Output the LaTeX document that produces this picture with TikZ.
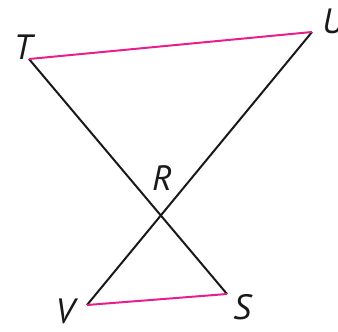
\documentclass[tikz,border=0pt]{standalone}
\usepackage{fontspec}
\setmainfont{PT Sans}
\usepackage{tikz}
\definecolor{segpink}{RGB}{232, 30, 140}

\begin{document}
\begin{tikzpicture}[x=0.03cm, y=-0.03cm,
        vlabel/.style={font=\fontsize{30}{32}\selectfont\itshape, inner sep=0pt, text=black!90},
        side/.style={line width=1.7pt, black!90},
        pinkside/.style={line width=1.7pt, segpink}
      ]
        \useasboundingbox (0,0) rectangle (338,331);
        \coordinate (T) at (29,59);
        \coordinate (U) at (312,32);
        \coordinate (V) at (87,305);
        \coordinate (S) at (227,294);
        \node[vlabel] (labT) at (23,47) {T};
        \node[vlabel] (labU) at (333,21) {U};
        \node[vlabel] (labR) at (162,178) {R};
        \node[vlabel] (labV) at (65,311) {V};
        \node[vlabel] (labS) at (242,307) {S};
        \draw[side] (T) -- (S);
        \draw[side] (U) -- (V);
        \draw[pinkside] (T) -- (U);
        \draw[pinkside] (V) -- (S);
      \end{tikzpicture}
\end{document}
